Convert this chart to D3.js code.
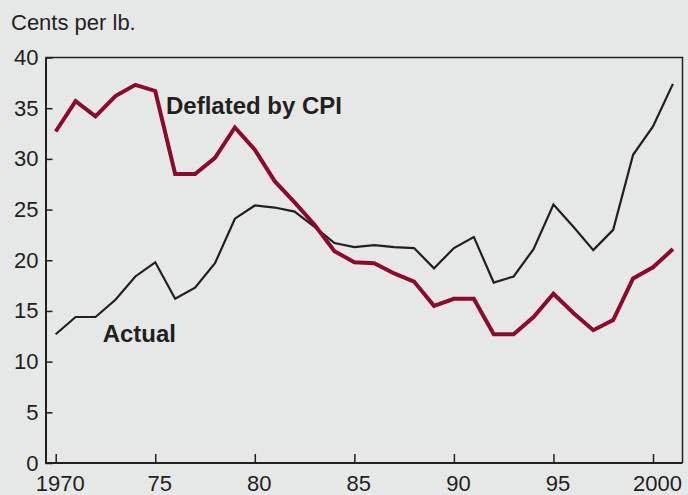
<!DOCTYPE html>
<meta charset="utf-8">
<style>

body {
  margin: 0;
  background: #e6e8e7;
}

svg {
  display: block;
  font-family: "Liberation Sans", Arial, sans-serif;
}

.tick text {
  font-size: 22px;
  fill: #231f20;
}

</style>
<svg id="chart" width="688" height="495"></svg>
<script src="https://d3js.org/d3.v7.min.js"></script>
<script>

// Years 1970-2001.
var years = d3.range(1970, 2002);

// Actual price, cents per lb.
var actual = [12.7, 14.4, 14.4, 16.1, 18.4, 19.8, 16.2, 17.3, 19.7, 24.1,
              25.4, 25.2, 24.8, 23.3, 21.7, 21.3, 21.5, 21.3, 21.2, 19.2,
              21.2, 22.3, 17.8, 18.4, 21.1, 25.5, 23.3, 21.0, 23.0, 30.4,
              33.2, 37.4];

// Price deflated by CPI, cents per lb.
var deflated = [32.7, 35.7, 34.2, 36.2, 37.3, 36.7, 28.5, 28.5, 30.1, 33.1,
                30.9, 27.8, 25.7, 23.5, 20.9, 19.8, 19.7, 18.7, 17.9, 15.5,
                16.2, 16.2, 12.7, 12.7, 14.4, 16.7, 14.8, 13.1, 14.1, 18.2,
                19.3, 21.1];

var xTicks = [1970, 1975, 1980, 1985, 1990, 1995, 2000],
    xTickLabels = ["1970", "75", "80", "85", "90", "95", "2000"],
    yTicks = [0, 5, 10, 15, 20, 25, 30, 35, 40];

var svg = d3.select("svg"),
    plot = {left: 45.5, right: 682.5, top: 57.5, bottom: 463};

var x = d3.scaleLinear()
    .domain([1970, 2000])
    .range([55.7, 653]);

var y = d3.scaleLinear()
    .domain([0, 40])
    .range([plot.bottom, plot.top]);

// frame top and right
svg.append("path")
    .attr("d", "M" + plot.left + "," + plot.top + "H" + plot.right + "V" + plot.bottom)
    .attr("fill", "none")
    .attr("stroke", "#231f20")
    .attr("stroke-width", 1.5);

var yAxis = svg.append("g")
    .attr("transform", "translate(" + plot.left + ",0)")
    .call(d3.axisRight(y)
        .tickValues(yTicks)
        .tickSize(7)
        .tickSizeOuter(0));

yAxis.selectAll("text")
    .attr("x", -7)
    .attr("text-anchor", "end");

var xAxis = svg.append("g")
    .attr("transform", "translate(0," + plot.bottom + ")")
    .call(d3.axisTop(x)
        .tickValues(xTicks)
        .tickFormat(function(d, i) { return xTickLabels[i]; })
        .tickSize(9)
        .tickSizeOuter(0));

xAxis.selectAll("text")
    .attr("y", 27.5)
    .attr("dy", null)
    .attr("dx", 4);

xAxis.select(".domain").attr("d", "M" + plot.left + ",0H" + plot.right);

svg.selectAll(".domain")
    .attr("stroke", "#231f20")
    .attr("stroke-width", 2);

svg.selectAll(".tick line")
    .attr("stroke", "#231f20")
    .attr("stroke-width", 1.5);

var line = d3.line()
    .x(function(d, i) { return x(years[i]); })
    .y(function(d) { return y(d); });

svg.append("path")
    .datum(actual)
    .attr("d", line)
    .attr("fill", "none")
    .attr("stroke", "#231f20")
    .attr("stroke-width", 2.2);

svg.append("path")
    .datum(deflated)
    .attr("d", line)
    .attr("fill", "none")
    .attr("stroke", "#8c0a2c")
    .attr("stroke-width", 4);

svg.append("text")
    .attr("x", 11)
    .attr("y", 30)
    .attr("font-size", 22)
    .attr("fill", "#231f20")
    .text("Cents per lb.");

svg.append("text")
    .attr("x", 166)
    .attr("y", 114.3)
    .attr("font-size", 24)
    .attr("font-weight", "bold")
    .attr("fill", "#231f20")
    .text("Deflated by CPI");

svg.append("text")
    .attr("x", 102.7)
    .attr("y", 342.3)
    .attr("font-size", 24)
    .attr("font-weight", "bold")
    .attr("fill", "#231f20")
    .text("Actual");

</script>
